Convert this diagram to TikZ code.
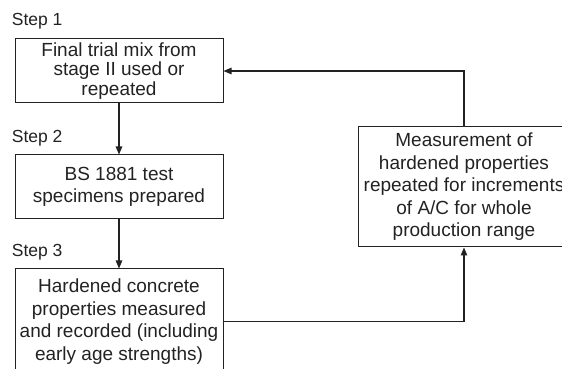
\documentclass[tikz,border=0pt]{standalone}
\usepackage{fontspec}
\setmainfont{Liberation Sans}
\usetikzlibrary{arrows.meta}
\definecolor{ink}{HTML}{222222}
\begin{document}
\begin{tikzpicture}[x=1pt,y=1pt,
  box/.style={draw=ink, line width=1pt, text=ink, align=center, inner sep=0pt,
    font=\fontsize{19}{22.5}\selectfont},
  steplabel/.style={anchor=base west, text=ink, inner sep=0pt, font=\fontsize{17.5}{20}\selectfont},
  conn/.style={draw=ink, line width=1.1pt, -{Triangle[length=8pt,width=6.5pt]}}]
\useasboundingbox (0,0) rectangle (562,369);
\clip (0,0) rectangle (562,369);
\node[box, minimum width=208, minimum height=64, font=\fontsize{19}{19.5}\selectfont] (b1) at (119,298)
  {Final trial mix from\\stage II used or\\repeated};
\node[box, minimum width=208, minimum height=64] (b2) at (119,182)
  {BS 1881 test\\specimens prepared};
\node[box, minimum width=208, minimum height=105] (b3) at (119,47.5)
  {Hardened concrete\\properties measured\\and recorded (including\\early age strengths)};
\node[box, minimum width=212, minimum height=120] (b4) at (464,182)
  {Measurement of\\hardened properties\\repeated for increments\\of A/C for whole\\production range};
\node[steplabel] (s1) at (11.7,343.3) {Step 1};
\node[steplabel] (s2) at (11.7,226) {Step 2};
\node[steplabel] (s3) at (11.7,112) {Step 3};
\draw[conn] (b1.south) -- (b2.north);
\draw[conn] (b2.south) -- (b3.north);
\draw[conn] (b3.east) -| (b4.south);
\draw[conn] (b4.north) |- (b1.east);
\end{tikzpicture}
\end{document}
